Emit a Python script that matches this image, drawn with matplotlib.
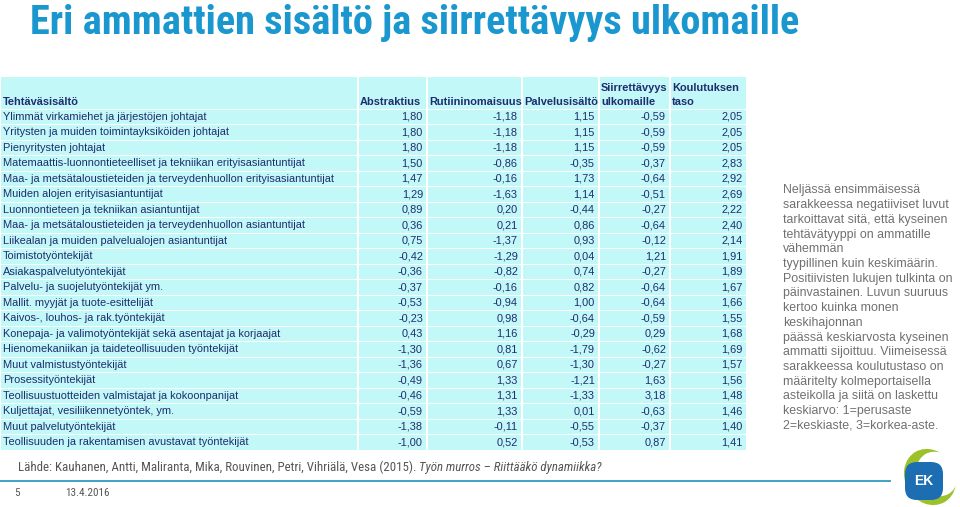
import matplotlib
matplotlib.use("Agg")
import matplotlib.pyplot as plt
from matplotlib import font_manager
from matplotlib.patches import Rectangle, Ellipse, FancyBboxPatch

title = "Eri ammattien sisältö ja siirrettävyys ulkomaille"
header_first = "Tehtäväsisältö"
col_headers = ["Abstraktius", "Rutiininomaisuus", "Palvelusisältö",
               "Siirrettävyys\nulkomaille", "Koulutuksen\ntaso"]
occupations = [
    "Ylimmät virkamiehet ja järjestöjen johtajat",
    "Yritysten ja muiden toimintayksiköiden johtajat",
    "Pienyritysten johtajat",
    "Matemaattis-luonnontieteelliset ja tekniikan erityisasiantuntijat",
    "Maa- ja metsätaloustieteiden ja terveydenhuollon erityisasiantuntijat",
    "Muiden alojen erityisasiantuntijat",
    "Luonnontieteen ja tekniikan asiantuntijat",
    "Maa- ja metsätaloustieteiden ja terveydenhuollon asiantuntijat",
    "Liikealan ja muiden palvelualojen asiantuntijat",
    "Toimistotyöntekijät",
    "Asiakaspalvelutyöntekijät",
    "Palvelu- ja suojelutyöntekijät ym.",
    "Mallit. myyjät ja tuote-esittelijät",
    "Kaivos-, louhos- ja rak.työntekijät",
    "Konepaja- ja valimotyöntekijät sekä asentajat ja korjaajat",
    "Hienomekaniikan ja taideteollisuuden työntekijät",
    "Muut valmistustyöntekijät",
    "Prosessityöntekijät",
    "Teollisuustuotteiden valmistajat ja kokoonpanijat",
    "Kuljettajat, vesiliikennetyöntek, ym.",
    "Muut palvelutyöntekijät",
    "Teollisuuden ja rakentamisen avustavat työntekijät",
]
abstraktius = [1.80, 1.80, 1.80, 1.50, 1.47, 1.29, 0.89, 0.36, 0.75, -0.42, -0.36,
               -0.37, -0.53, -0.23, 0.43, -1.30, -1.36, -0.49, -0.46, -0.59, -1.38, -1.00]
rutiini = [-1.18, -1.18, -1.18, -0.86, -0.16, -1.63, 0.20, 0.21, -1.37, -1.29, -0.82,
           -0.16, -0.94, 0.98, 1.16, 0.81, 0.67, 1.33, 1.31, 1.33, -0.11, 0.52]
palvelu = [1.15, 1.15, 1.15, -0.35, 1.73, 1.14, -0.44, 0.86, 0.93, 0.04, 0.74,
           0.82, 1.00, -0.64, -0.29, -1.79, -1.30, -1.21, -1.33, 0.01, -0.55, -0.53]
siirrettavyys = [-0.59, -0.59, -0.59, -0.37, -0.64, -0.51, -0.27, -0.64, -0.12, 1.21, -0.27,
                 -0.64, -0.64, -0.59, 0.29, -0.62, -0.27, 1.63, 3.18, -0.63, -0.37, 0.87]
koulutus = [2.05, 2.05, 2.05, 2.83, 2.92, 2.69, 2.22, 2.40, 2.14, 1.91, 1.89,
            1.67, 1.66, 1.55, 1.68, 1.69, 1.57, 1.56, 1.48, 1.46, 1.40, 1.41]
side_note = ("Neljässä ensimmäisessä\nsarakkeessa negatiiviset luvut\n"
             "tarkoittavat sitä, että kyseinen\ntehtävätyyppi on ammatille\nvähemmän\n"
             "tyypillinen kuin keskimäärin.\nPositiivisten lukujen tulkinta on\n"
             "päinvastainen. Luvun suuruus\nkertoo kuinka monen\nkeskihajonnan\n"
             "päässä keskiarvosta kyseinen\nammatti sijoittuu. Viimeisessä\n"
             "sarakkeessa koulutustaso on\nmääritelty kolmeportaisella\n"
             "asteikolla ja siitä on laskettu\nkeskiarvo: 1=perusaste\n"
             "2=keskiaste, 3=korkea-aste.")
source_plain = "Lähde: Kauhanen, Antti, Maliranta, Mika, Rouvinen, Petri, Vihriälä, Vesa (2015). "
source_italic = "Työn murros – Riittääkö dynamiikka?"
page_no = "5"
date_text = "13.4.2016"

columns = [abstraktius, rutiini, palvelu, siirrettavyys, koulutus]

available = {f.name for f in font_manager.fontManager.ttflist}
NARROW = "Liberation Sans"
for cand in ["Liberation Sans Narrow", "Roboto Condensed", "Arial Narrow", "Open Sans Condensed"]:
    if cand in available:
        NARROW = cand
        break

fig = plt.figure(figsize=(9.6, 5.07), dpi=100)
ax = fig.add_axes([0, 0, 1, 1])
ax.set_xlim(0, 960)
ax.set_ylim(507, 0)
ax.axis("off")

CYAN = "#c2f8f8"
NAVY = "#1f2d6e"
SANS = "Liberation Sans"
FS = 7.9


def fit_width(txt, target_px):
    fig.canvas.draw()
    w = txt.get_window_extent().width
    txt.set_fontsize(txt.get_fontsize() * target_px / w)


# title
tt = ax.text(30, 23, title, fontsize=26, fontweight="bold", color="#1a97cf",
             family=NARROW, va="center", ha="left")
fit_width(tt, 770)

# table geometry
col_edges = [0, 358, 427, 522, 599, 670, 747]
table_top = 77
header_bottom = 109
row_h = (450 - header_bottom) / len(occupations)

for j in range(len(col_edges) - 1):
    ax.add_patch(Rectangle((col_edges[j] + 1, table_top), col_edges[j + 1] - col_edges[j] - 2,
                           header_bottom - table_top - 0.5, facecolor=CYAN, edgecolor="none"))
ax.text(3, 102, header_first, fontsize=FS, fontweight="bold", color=NAVY, family=SANS,
        ha="left", va="center")
for j, h in enumerate(col_headers):
    lines = h.split("\n")
    ys = [102] if len(lines) == 1 else [88, 102]
    for line, yy in zip(lines, ys):
        ax.text(col_edges[j + 1] + 2, yy, line, fontsize=FS, fontweight="bold", color=NAVY,
                family=SANS, ha="left", va="center")

for i, occ in enumerate(occupations):
    y0 = header_bottom + i * row_h
    yc = y0 + row_h / 2
    for j in range(len(col_edges) - 1):
        ax.add_patch(Rectangle((col_edges[j] + 1, y0 + 0.5), col_edges[j + 1] - col_edges[j] - 2,
                               row_h - 1, facecolor=CYAN, edgecolor="none"))
    ax.text(3, yc, occ, fontsize=FS, color=NAVY, family=SANS, ha="left", va="center")
    for j, col in enumerate(columns):
        ax.text(col_edges[j + 2] - 4, yc, f"{col[i]:.2f}".replace(".", ","), fontsize=FS,
                color=NAVY, family=SANS, ha="right", va="center")

# side note
ax.text(783, 184.5, side_note, fontsize=8.9, color="#707070", family=SANS,
        ha="left", va="top", linespacing=1.30)

# footer
src_fs = 7.5
t1 = ax.text(18, 467, source_plain, fontsize=src_fs, color="#555555", family=NARROW,
             ha="left", va="center")
t2 = ax.text(100, 467, source_italic, fontsize=src_fs, color="#555555", family=NARROW,
             style="italic", ha="left", va="center")
fig.canvas.draw()
w_total = t1.get_window_extent().width + t2.get_window_extent().width
src_fs = src_fs * 582 / w_total
t1.set_fontsize(src_fs)
t2.set_fontsize(src_fs)
fig.canvas.draw()
bb = t1.get_window_extent()
x_end = ax.transData.inverted().transform((bb.x1, bb.y0))[0]
t2.set_x(x_end)
ax.plot([0, 890], [481, 481], color="#2f9cbf", lw=1.3)
ax.text(14, 493, page_no, fontsize=8, color="#555555", family=NARROW, ha="left", va="center")
ax.text(65, 493, date_text, fontsize=8, color="#555555", family=NARROW, ha="left", va="center")

# logo
ax.add_patch(Ellipse((930, 477), 50, 58, angle=-30, facecolor="#9cc12b", edgecolor="none"))
ax.add_patch(Ellipse((937, 474), 40, 46, angle=-30, facecolor="white", edgecolor="none"))
ax.add_patch(FancyBboxPatch((905, 462), 38, 38, boxstyle="round,pad=0,rounding_size=12",
                            facecolor="#1d6db3", edgecolor="none"))
ax.text(924, 481, "EK", fontsize=10, fontweight="bold", color="white", family=SANS,
        ha="center", va="center")

fig.savefig("out.png", dpi=100)
